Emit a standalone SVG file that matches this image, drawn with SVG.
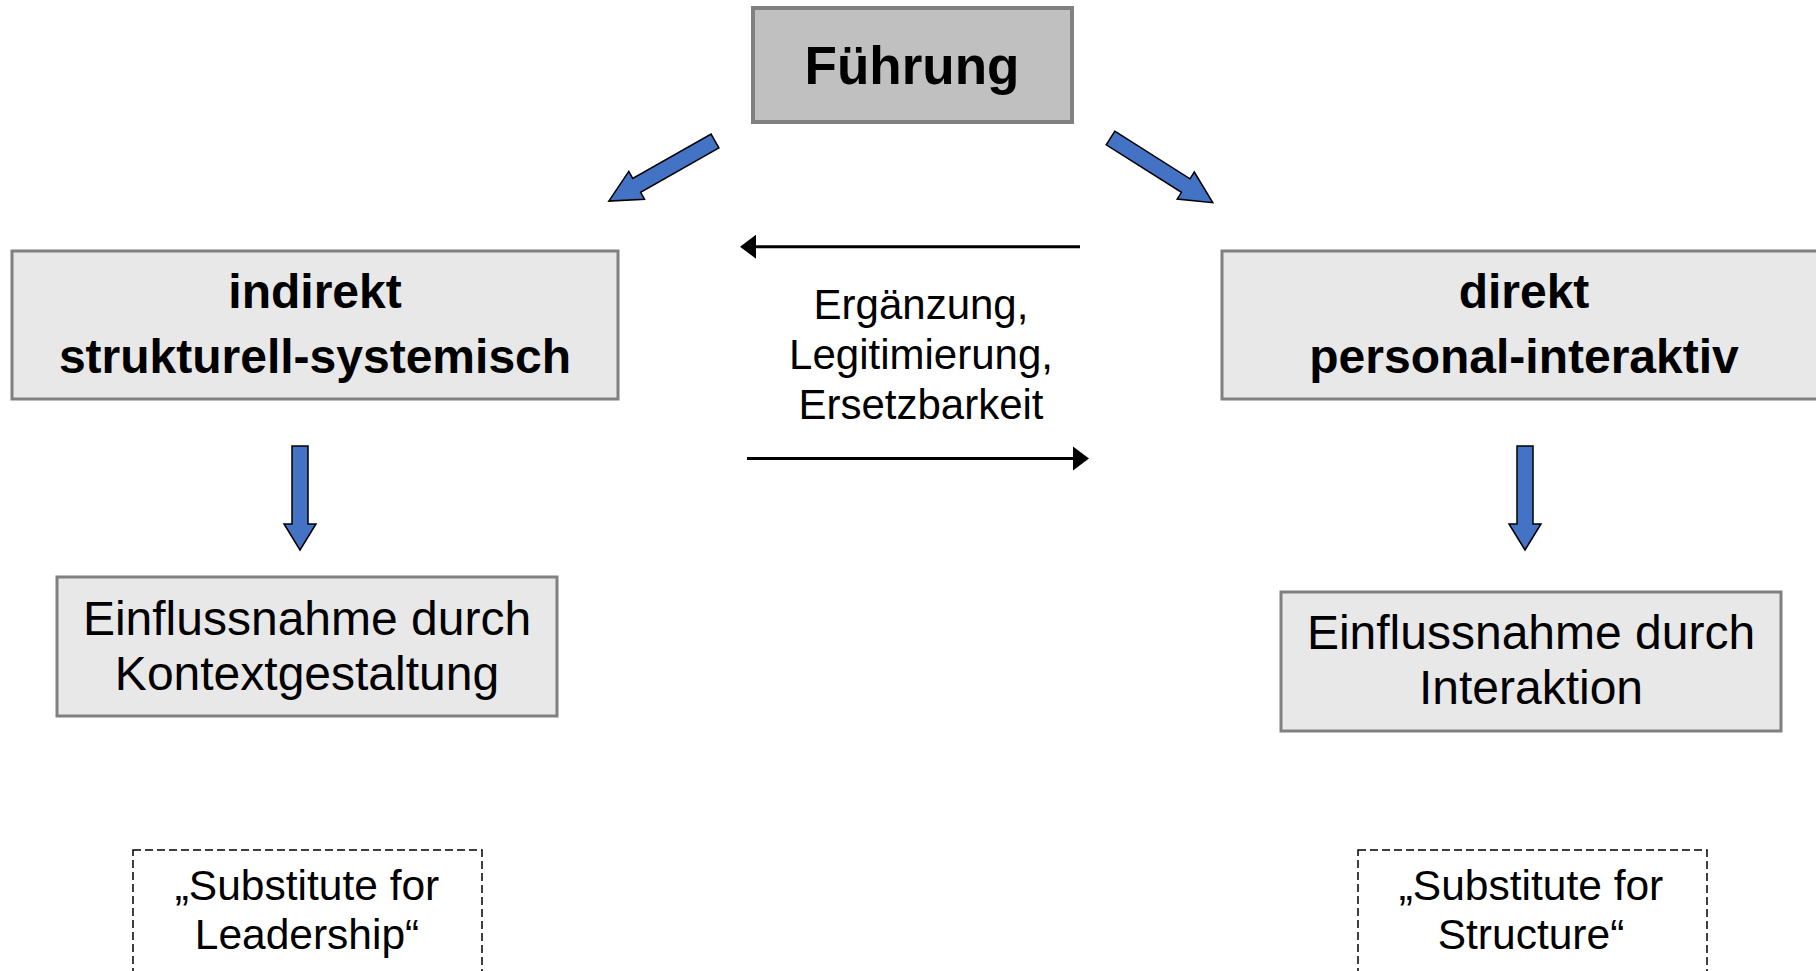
<svg xmlns="http://www.w3.org/2000/svg" width="1816" height="971" viewBox="0 0 1816 971">
<style>
  text { font-family: "Liberation Sans", Arial, sans-serif; fill: #000; text-anchor: middle; }
  .bold { font-weight: bold; }
  .box { fill: #e8e8e8; stroke: #808080; stroke-width: 3; }
  .top { fill: #c0c0c0; stroke: #808080; stroke-width: 4; }
  .dash { fill: #fff; stroke: #000; stroke-width: 1.5; stroke-dasharray: 8 4; }
  .blue { fill: #4472c4; stroke: #000; stroke-width: 1.5; stroke-linejoin: miter; }
  .line { stroke: #000; stroke-width: 3; fill: none; }
  .head { fill: #000; }
</style>
<rect width="1816" height="971" fill="#fff"/>

<g id="fuehrung">
  <rect class="top" x="753" y="8" width="319" height="114"/>
  <text class="bold" x="912" y="84" font-size="53">Führung</text>
</g>

<g id="indirekt">
  <rect class="box" x="12" y="251" width="606" height="148"/>
  <text class="bold" x="315" y="308" font-size="48">indirekt</text>
  <text class="bold" x="315" y="373" font-size="48">strukturell-systemisch</text>
</g>

<g id="direkt">
  <rect class="box" x="1222" y="251" width="606" height="148"/>
  <text class="bold" x="1524" y="308" font-size="48">direkt</text>
  <text class="bold" x="1524" y="373" font-size="48">personal-interaktiv</text>
</g>

<g id="relation">
  <text x="921" y="319" font-size="42">Ergänzung,</text>
  <text x="921" y="369" font-size="42">Legitimierung,</text>
  <text x="921" y="419" font-size="42">Ersetzbarkeit</text>
</g>

<g id="kontext">
  <rect class="box" x="57" y="577" width="500" height="139"/>
  <text x="307" y="635" font-size="48">Einflussnahme durch</text>
  <text x="307" y="690" font-size="48">Kontextgestaltung</text>
</g>

<g id="interaktion">
  <rect class="box" x="1281" y="592" width="500" height="139"/>
  <text x="1531" y="649" font-size="48">Einflussnahme durch</text>
  <text x="1531" y="704" font-size="48">Interaktion</text>
</g>

<g id="sub-leadership">
  <rect class="dash" x="133" y="850" width="349" height="140"/>
  <text x="307" y="900" font-size="42.5">„Substitute for</text>
  <text x="307" y="949" font-size="42.5">Leadership“</text>
</g>

<g id="sub-structure">
  <rect class="dash" x="1358" y="850" width="349" height="140"/>
  <text x="1531" y="900" font-size="42.5">„Substitute for</text>
  <text x="1531" y="949" font-size="42.5">Structure“</text>
</g>

<g id="connectors">
  <polygon class="blue" transform="translate(715,141) rotate(150.5)" points="0,-8 90,-8 90,-16 122,0 90,16 90,8 0,8"/>
  <polygon class="blue" transform="translate(1110.5,138) rotate(32.3)" points="0,-8 89,-8 89,-16 121,0 89,16 89,8 0,8"/>
  <polygon class="blue" points="292,446 308,446 308,524 316,524 300,550 284,524 292,524"/>
  <polygon class="blue" points="1517,446 1533,446 1533,524 1541,524 1525,550 1509,524 1517,524"/>
  <line class="line" x1="1080" y1="246.7" x2="752" y2="246.7"/>
  <polygon class="head" points="740,246.7 756,234.7 756,258.7"/>
  <line class="line" x1="747" y1="458.5" x2="1077" y2="458.5"/>
  <polygon class="head" points="1089,458.5 1073,446.5 1073,470.5"/>
</g>
</svg>
